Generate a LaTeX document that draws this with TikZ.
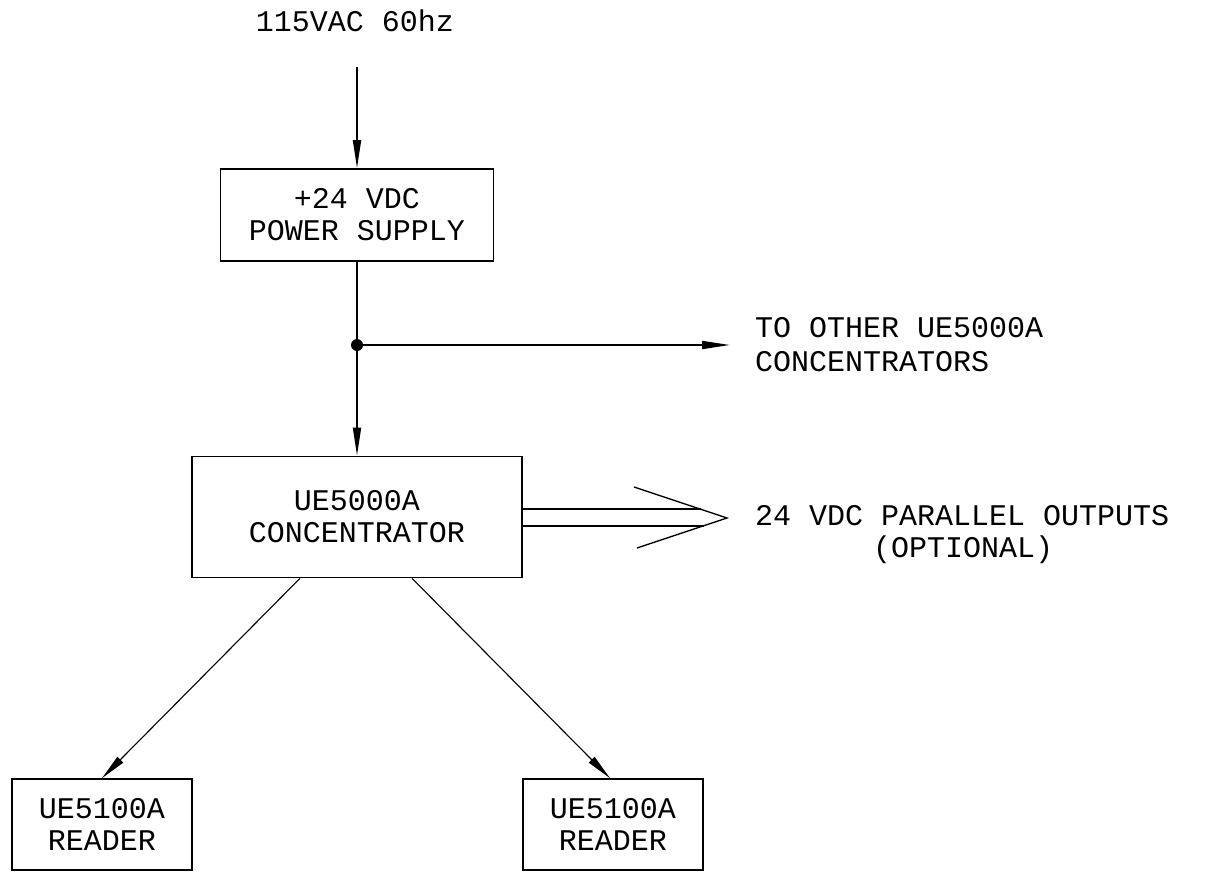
\documentclass[tikz,border=0pt]{standalone}
\usepackage{fontspec}
\newfontfamily\cadfont{Liberation Mono}
\usetikzlibrary{arrows.meta,positioning}

\begin{document}
\begin{tikzpicture}[x=1pt, y=-1pt]
  % --- one unit is one pixel of the sheet, y runs downwards ----------------
  \def\cx{357}    % the trunk: supply, tap and concentrator share it
  \def\ty{345}    % height of the tap on the trunk

  \tikzset{
    block/.style={draw, line width=1.6pt, inner sep=0pt, align=center,
      font=\cadfont\fontsize{30}{32}\selectfont},
    wire/.style={line width=1.8pt, -{Triangle[length=28pt, width=8pt]}},
    feed/.style={line width=1.1pt, -{Triangle[length=26pt, width=8pt]}},
    bus/.style={line width=1.3pt},
    lbl/.style={inner sep=0pt, font=\cadfont\fontsize{30}{34}\selectfont}}

  \useasboundingbox (0,0) rectangle (1210,871);

  % ---- 1. the blocks ------------------------------------------------------
  \node[block, minimum width=273pt, minimum height=92pt] (psu)
    at (\cx,215) {+24 VDC\\POWER SUPPLY};
  \node[block, minimum width=330pt, minimum height=121pt] (conc)
    at (\cx,517) {UE5000A\\CONCENTRATOR};
  \node[block, minimum width=180pt, minimum height=91pt] (rdA)
    at (102,824.5) {UE5100A\\READER};
  \node[block, minimum width=180pt, minimum height=91pt] (rdB)
    at (613,824.5) {UE5100A\\READER};

  % ---- 2. the supply trunk ------------------------------------------------
  \node[lbl] (ac) at (355,21) {115VAC 60hz};
  \coordinate (acin) at (\cx,67);
  \coordinate (tap) at (\cx,\ty);
  \coordinate (other) at (730,\ty);
  \draw[wire] (acin) -- (psu);
  \draw[line width=1.8pt] (psu) -- (tap);
  \draw[wire] (tap) -- (conc);
  \draw[wire] (tap) -- (other);
  \fill (tap) circle (6pt);
  \node[lbl, align=left, anchor=west] (otherlbl) at (755,\ty)
    {TO OTHER UE5000A\\CONCENTRATORS};

  % ---- 3. the parallel outputs, as an open double arrow -------------------
  \coordinate (partip) at (727,518);
  \draw[bus] ([yshift=8pt]conc.east) -- ++(178,0);
  \draw[bus] ([yshift=-9pt]conc.east) -- ++(181,0);
  \draw[bus] (partip) ++(-93,-31) -- (partip) -- ++(-90,30);
  \node[lbl, anchor=west] (parlbl) at (755,516) {24 VDC PARALLEL OUTPUTS};
  \node[lbl, anchor=west] (optlbl) at (873,550) {(OPTIONAL)};

  % ---- 4. the readers -----------------------------------------------------
  \draw[feed] ([xshift=-57pt]conc.south) -- (rdA.north);
  \draw[feed] ([xshift=55pt]conc.south) -- ([xshift=-3pt]rdB.north);
\end{tikzpicture}
\end{document}
